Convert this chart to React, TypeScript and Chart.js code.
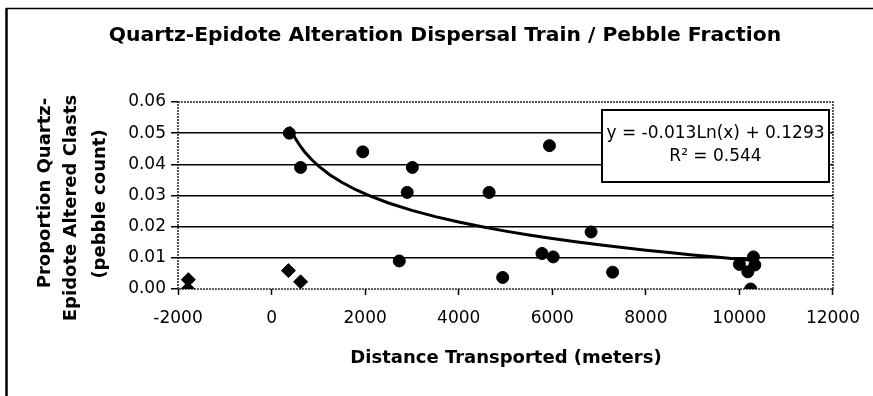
import React, { useEffect, useRef } from "react";
import { Chart, registerables } from "chart.js";

Chart.register(...registerables);

// ---- Text ----
const TITLE = "Quartz-Epidote Alteration Dispersal Train / Pebble Fraction";
const X_TITLE = "Distance Transported (meters)";
const Y_TITLE = ["Proportion Quartz-", "Epidote Altered Clasts", "(pebble count)"];
const EQUATION = "y = -0.013Ln(x) + 0.1293";
const R_SQUARED = "R\u00B2 = 0.544";

// ---- Axes ----
const X_MIN = -2000;
const X_MAX = 12000;
const X_STEP = 2000;
const Y_MIN = 0;
const Y_MAX = 0.06;
const Y_STEP = 0.01;

// ---- Data: circles (dispersal train samples) ----
const circleX = [380, 620, 1950, 2730, 2900, 3010, 4650, 4940, 5780, 5940, 6020, 6830, 7290, 10000, 10180, 10240, 10300, 10330];
const circleY = [0.050, 0.039, 0.044, 0.009, 0.031, 0.039, 0.031, 0.0037, 0.0114, 0.046, 0.0103, 0.0183, 0.0054, 0.0079, 0.0055, 0.0, 0.0103, 0.0077];

// ---- Data: diamonds (background samples) ----
const diamondX = [-1780, -1790, 360, 620];
const diamondY = [0.003, 0.0, 0.0059, 0.0023];

// ---- Logarithmic trendline, as stated on the chart ----
const TREND_SLOPE = -0.013;
const TREND_INTERCEPT = 0.1293;
const TREND_X = [380, 430, 500, 600, 700, 850, 1000, 1250, 1500, 1800, 2100, 2500, 3000, 3500, 4000, 4500, 5000, 5500, 6000, 6500, 7000, 7500, 8000, 8500, 9000, 9500, 10000, 10330];

const FONT = '"DejaVu Sans", "Liberation Sans", Arial, sans-serif';

export default function App() {
  const canvasRef = useRef<HTMLCanvasElement | null>(null);

  useEffect(() => {
    const canvas = canvasRef.current;
    if (!canvas) return;

    const circles = circleX.map((x, i) => ({ x, y: circleY[i] }));
    const diamonds = diamondX.map((x, i) => ({ x, y: diamondY[i] }));
    const trend = TREND_X.map((x) => ({ x, y: TREND_SLOPE * Math.log(x) + TREND_INTERCEPT }));

    const decor = {
      id: "decor",
      beforeDraw(chart: any) {
        const ctx = chart.ctx as CanvasRenderingContext2D;
        ctx.save();
        ctx.fillStyle = "#ffffff";
        ctx.fillRect(0, 0, chart.width, chart.height);
        ctx.strokeStyle = "#000";
        // outer chart frame (left and top visible)
        ctx.lineWidth = 2.5;
        ctx.beginPath();
        ctx.moveTo(6.5, 8);
        ctx.lineTo(6.5, chart.height);
        ctx.stroke();
        ctx.lineWidth = 1.5;
        ctx.beginPath();
        ctx.moveTo(6, 8.5);
        ctx.lineTo(chart.width, 8.5);
        ctx.stroke();
        ctx.restore();
      },
      beforeDatasetsDraw(chart: any) {
        const ctx = chart.ctx as CanvasRenderingContext2D;
        const a = chart.chartArea;
        ctx.save();
        ctx.strokeStyle = "#222";
        ctx.lineWidth = 1.5;
        ctx.setLineDash([2, 1]);
        ctx.strokeRect(a.left, a.top, a.right - a.left, a.bottom - a.top);
        ctx.restore();
      },
      afterDraw(chart: any) {
        const ctx = chart.ctx as CanvasRenderingContext2D;
        ctx.save();
        ctx.fillStyle = "#000";
        // title
        ctx.font = `bold 20.3px ${FONT}`;
        ctx.textAlign = "center";
        ctx.textBaseline = "alphabetic";
        ctx.fillText(TITLE, 445, 41);
        // x axis title
        ctx.font = `bold 18px ${FONT}`;
        ctx.fillText(X_TITLE, 506, 363);
        // y axis title (rotated, three lines)
        const yBase = [50, 76, 105];
        const yCenter = [193, 208, 204];
        Y_TITLE.forEach((line, i) => {
          ctx.save();
          ctx.translate(yBase[i], yCenter[i]);
          ctx.rotate(-Math.PI / 2);
          ctx.fillText(line, 0, 0);
          ctx.restore();
        });
        // equation box
        ctx.fillStyle = "#fff";
        ctx.fillRect(602, 110, 227, 72);
        ctx.strokeStyle = "#000";
        ctx.lineWidth = 2;
        ctx.strokeRect(602, 110, 227, 72);
        ctx.fillStyle = "#000";
        ctx.font = `17px ${FONT}`;
        ctx.fillText(EQUATION, 715.5, 138);
        ctx.fillText(R_SQUARED, 715.5, 161);
        ctx.restore();
      },
    };

    const chart = new Chart(canvas, {
      type: "scatter",
      data: {
        datasets: [
          {
            label: "Log trendline",
            data: trend,
            showLine: true,
            borderColor: "#000",
            borderWidth: 3,
            pointRadius: 0,
            pointHoverRadius: 0,
            tension: 0,
          },
          {
            label: "Dispersal train",
            data: circles,
            pointStyle: "circle",
            pointRadius: 6,
            borderWidth: 1,
            backgroundColor: "#000",
            borderColor: "#000",
          },
          {
            label: "Background",
            data: diamonds,
            pointStyle: "rectRot",
            pointRadius: 7,
            borderWidth: 1,
            backgroundColor: "#000",
            borderColor: "#000",
          },
        ],
      },
      options: {
        animation: false,
        responsive: false,
        devicePixelRatio: 1,
        layout: { padding: { left: 0, right: 40, top: 102, bottom: 0 } },
        plugins: {
          legend: { display: false },
          title: { display: false },
          tooltip: { enabled: false },
        },
        scales: {
          x: {
            type: "linear",
            min: X_MIN,
            max: X_MAX,
            border: { display: false },
            grid: {
              drawOnChartArea: false,
              drawTicks: true,
              tickLength: 6,
              tickColor: "#000",
              tickWidth: 1.5,
            },
            ticks: {
              stepSize: X_STEP,
              color: "#000",
              padding: 13,
              font: { family: FONT, size: 17 },
              callback: (v: any) => String(v),
            },
            afterFit: (scale: any) => {
              scale.height = 107;
            },
          },
          y: {
            type: "linear",
            min: Y_MIN,
            max: Y_MAX,
            border: { display: false },
            grid: {
              color: (c: any) => {
                const v = c.tick ? c.tick.value : 0;
                return v < 0.0001 || v > Y_MAX - 0.0001 ? "rgba(0,0,0,0)" : "#000";
              },
              lineWidth: 1.5,
              drawTicks: true,
              tickLength: 7,
              tickColor: "#000",
              tickWidth: 1.5,
            },
            ticks: {
              stepSize: Y_STEP,
              color: "#000",
              padding: 5,
              font: { family: FONT, size: 17 },
              callback: (v: any) => Number(v).toFixed(2),
            },
            afterFit: (scale: any) => {
              scale.width = 178;
            },
          },
        },
      },
      plugins: [decor],
    });

    return () => chart.destroy();
  }, []);

  return (
    <div style={{ position: "absolute", left: 0, top: 0, width: 873, height: 396, overflow: "hidden", background: "#fff" }}>
      <canvas ref={canvasRef} width={873} height={396} style={{ display: "block" }} />
    </div>
  );
}
